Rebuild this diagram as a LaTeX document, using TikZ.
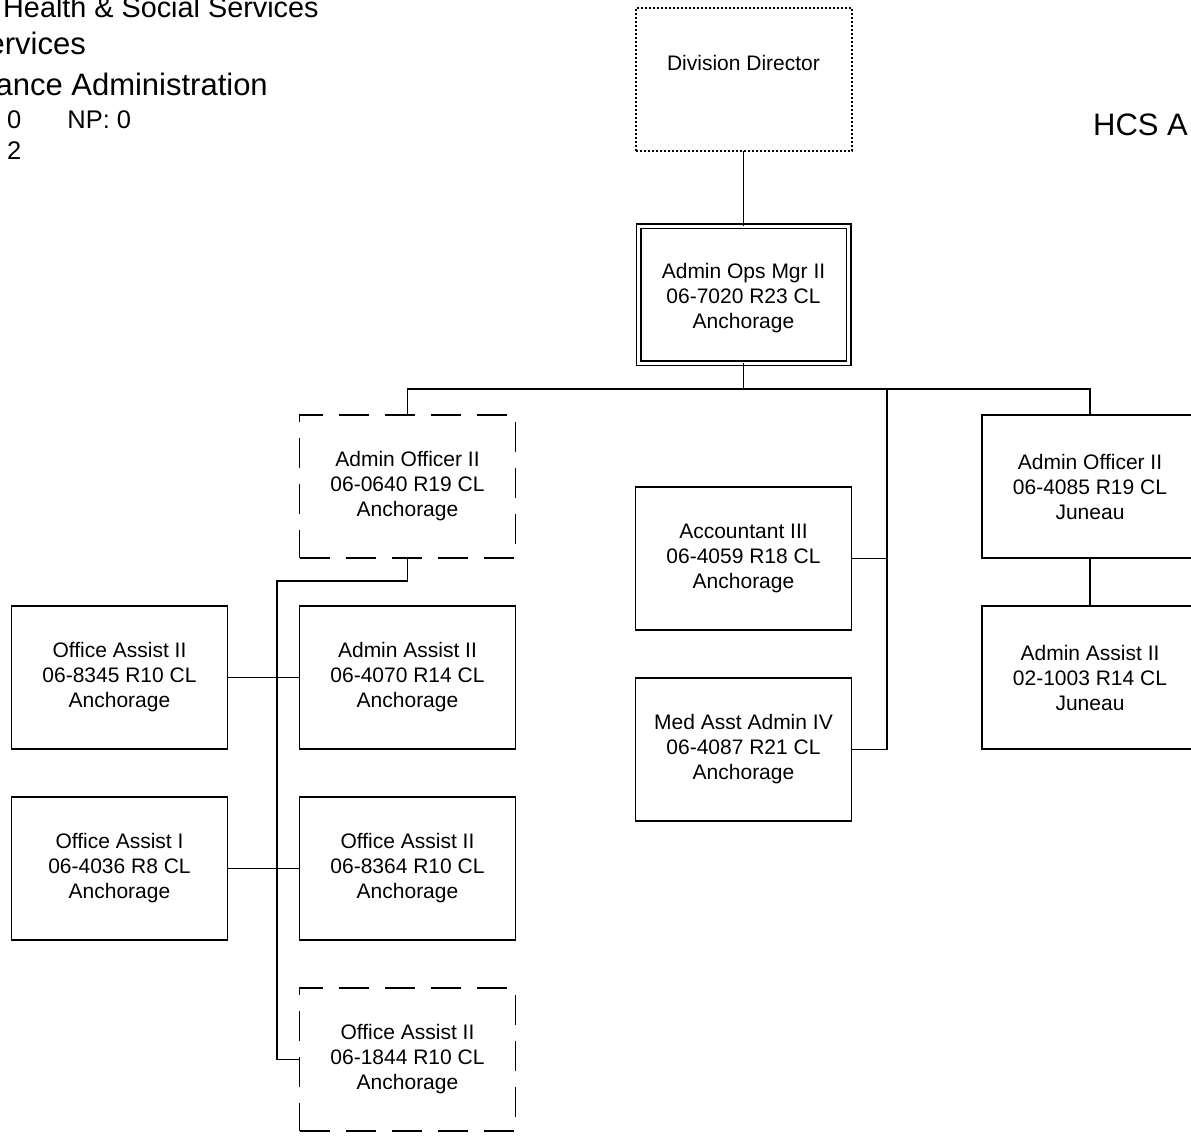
\documentclass[tikz,border=0pt]{standalone}
\usepackage{fontspec}
\setmainfont{Liberation Sans}
\usepackage{tikz}
\usetikzlibrary{positioning}

\newcommand{\boxfont}{\fontsize{21}{25}\selectfont}
\newcommand{\headfont}{\fontsize{31}{37}\selectfont}
\newcommand{\deptfont}{\fontsize{28.8}{34}\selectfont}
\newcommand{\subfont}{\fontsize{25.5}{30}\selectfont}

\tikzset{
	post/.style={rectangle,draw,line width=1.8pt,minimum width=216pt,minimum height=143pt,inner sep=0pt,outer sep=0pt,align=center,font=\boxfont},
	vacant/.style={post,dash pattern=on 30pt off 16pt},
	acting/.style={post,line width=2pt,dash pattern=on 2pt off 2pt},
	lead/.style={post,double,double distance=3pt,line width=1.5pt,minimum width=210pt,minimum height=137pt},
	link/.style={line width=1.8pt},
	head/.style={inner sep=0pt,font=\headfont}
}

\begin{document}
\begin{tikzpicture}[x=1pt,y=-1pt]
	\useasboundingbox (0,0) rectangle (1191,1136);

	\begin{scope}[every node/.style={head}]
		\node[anchor=base west,font=\deptfont] (dept) at (3,17) {Health \& Social Services};
		\node[anchor=base east] (div) at (86,54) {ervices};
		\node[anchor=base east] (sect) at (268,95) {ance Administration};
		\node[anchor=base west,font=\subfont] (count) at (7,128) {0\hspace{46pt}NP: 0};
		\node[anchor=base west,font=\subfont] (total) at (7,159) {2};
		\node[anchor=base west] (code) at (1093,135) {HCS A};
	\end{scope}

	\begin{scope}
		\node[acting] (dd) at (743.5,79) {Division Director\\\strut};
		\node[lead] (aom) at (743.5,294.5) {\rule{0pt}{22pt}Admin Ops Mgr II\\06-7020 R23 CL\\Anchorage};
		\node[vacant] (ao1) at (407.5,486.5) {Admin Officer II\\06-0640 R19 CL\\Anchorage};
		\node[post,below =48pt of ao1] (aa1) {Admin Assist II\\06-4070 R14 CL\\Anchorage};
		\node[post,below =48pt of aa1] (oa8364) {Office Assist II\\06-8364 R10 CL\\Anchorage};
		\node[vacant,below =48pt of oa8364] (oa1844) {Office Assist II\\06-1844 R10 CL\\Anchorage};
		\node[post,left =72pt of aa1] (oa8345) {Office Assist II\\06-8345 R10 CL\\Anchorage};
		\node[post,left =72pt of oa8364] (oa4036) {Office Assist I\\06-4036 R8 CL\\Anchorage};
		\node[post] (acc) at (743.5,558.5) {Accountant III\\06-4059 R18 CL\\Anchorage};
		\node[post,below =48pt of acc] (med) {Med Asst Admin IV\\06-4087 R21 CL\\Anchorage};
		\node[post] (ao2) at (1090,486.5) {Admin Officer II\\06-4085 R19 CL\\Juneau};
		\node[post,below =48pt of ao2] (aa2) {Admin Assist II\\02-1003 R14 CL\\Juneau};
	\end{scope}

	\coordinate (bus) at (743.5,389);
	\coordinate (busr) at (887,389);
	\coordinate (elbow) at (277,581);

	\begin{scope}[link]
		\draw (dd) -- (aom);
		\draw (aom) -- (bus);
		\draw (ao1.north) |- (bus) -| (ao2.north);
		\draw (busr) |- (acc.east);
		\draw (busr) |- (med.east);
		\draw (ao2) -- (aa2);
		\draw (ao1.south) |- (elbow) |- (oa1844.west);
		\draw (oa8345) -- (aa1);
		\draw (oa4036) -- (oa8364);
	\end{scope}
\end{tikzpicture}
\end{document}
